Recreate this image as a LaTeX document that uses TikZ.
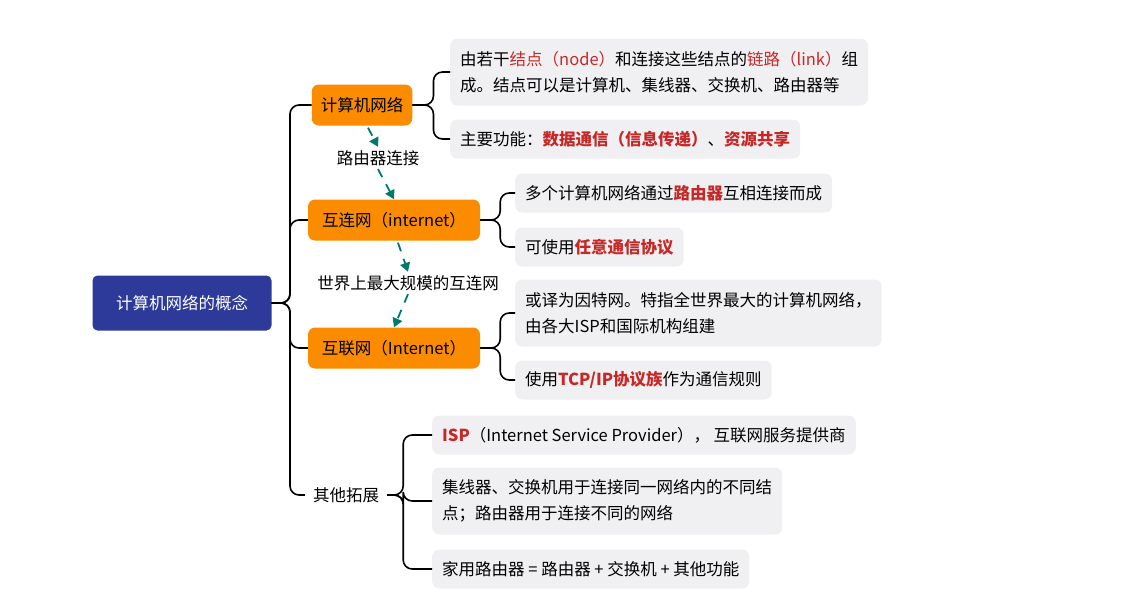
\documentclass[tikz,border=0pt]{standalone}
\usepackage{fontspec}
\setmainfont{Noto Sans CJK SC}
\usetikzlibrary{arrows.meta}
\definecolor{rootblue}{HTML}{2E3A9A}
\definecolor{orng}{HTML}{FB8C00}
\definecolor{leafgray}{HTML}{F0F0F2}
\definecolor{hred}{HTML}{C62828}
\definecolor{teal}{HTML}{00796B}
\newcommand{\hl}[1]{\textcolor{hred}{\bfseries #1}}
\newcommand{\hn}[1]{\textcolor{hred}{#1}}
\begin{document}
\begin{tikzpicture}[x=1pt,y=-1pt,font=\fontsize{16.5}{26}\selectfont,
  rootbox/.style={fill=rootblue,text=white,rounded corners=5,minimum width=179,minimum height=55},
  obox/.style={fill=orng,rounded corners=7,minimum height=41,inner xsep=9},
  leaf/.style={fill=leafgray,rounded corners=7,anchor=west,inner xsep=10,align=left,minimum height=39},
  conn/.style={line width=1.6pt,rounded corners=9},
  darr/.style={teal,line width=1.8pt,dash pattern=on 9pt off 8pt,-{Triangle[length=9pt,width=10pt]}}]
\useasboundingbox (0,0) rectangle (1137,614);
\node[rootbox] (root) at (182,303) {计算机网络的概念};
\node[obox] (n1) at (362,105) {计算机网络};
\node[obox,minimum width=172] (n2) at (394,220) {互连网（internet）};
\node[obox,minimum width=172] (n3) at (394,348) {互联网（Internet）};
\node[inner xsep=8] (n4) at (346,495) {其他拓展};

\node[leaf,minimum height=67] (l1) at (450,72) {由若干\hn{结点（node）}和连接这些结点的\hn{链路（link）}组\\成。结点可以是计算机、集线器、交换机、路由器等};
\node[leaf] (l2) at (450,139) {主要功能：\hl{数据通信（信息传递）}、\hl{资源共享}};
\node[leaf] (l3) at (515,193) {多个计算机网络通过\hl{路由器}互相连接而成};
\node[leaf] (l4) at (515,247) {可使用\hl{任意通信协议}};
\node[leaf,minimum height=67] (l5) at (515,313) {或译为因特网。特指全世界最大的计算机网络，\\由各大ISP和国际机构组建};
\node[leaf] (l6) at (515,380) {使用\hl{TCP/IP协议族}作为通信规则};
\node[leaf] (l7) at (432,435) {\hl{ISP}（Internet Service Provider）， 互联网服务提供商};
\node[leaf,minimum height=67] (l8) at (432,501) {集线器、交换机用于连接同一网络内的不同结\\点；路由器用于连接不同的网络};
\node[leaf] (l9) at (432,569) {家用路由器 = 路由器 + 交换机 + 其他功能};

\coordinate (t) at (290,303);
\foreach \n in {n1,n2,n3,n4} \draw[conn] (root.east) -- (t) |- (\n.west);
\foreach \l in {l1,l2} \draw[conn] (n1.east) -- ++(21,0) |- (\l.west);
\foreach \l in {l3,l4} \draw[conn] (n2.east) -- ++(20,0) |- (\l.west);
\foreach \l in {l5,l6} \draw[conn] (n3.east) -- ++(20,0) |- (\l.west);
\foreach \l in {l7,l8,l9} \draw[conn] (n4.east) -- ++(16,0) |- (\l.west);

\node (e1) at (378,158) {路由器连接};
\node (e2) at (408,283) {世界上最大规模的互连网};
\draw[darr] (n1.south) ++(6,2) coordinate (s1) -- (e1.north);
\draw[darr] (e1.south) -- (n2.north);
\draw[darr] (n2.south) ++(4,2) -- (e2.north);
\draw[darr] (e2.south) -- (n3.north);
\end{tikzpicture}
\end{document}
